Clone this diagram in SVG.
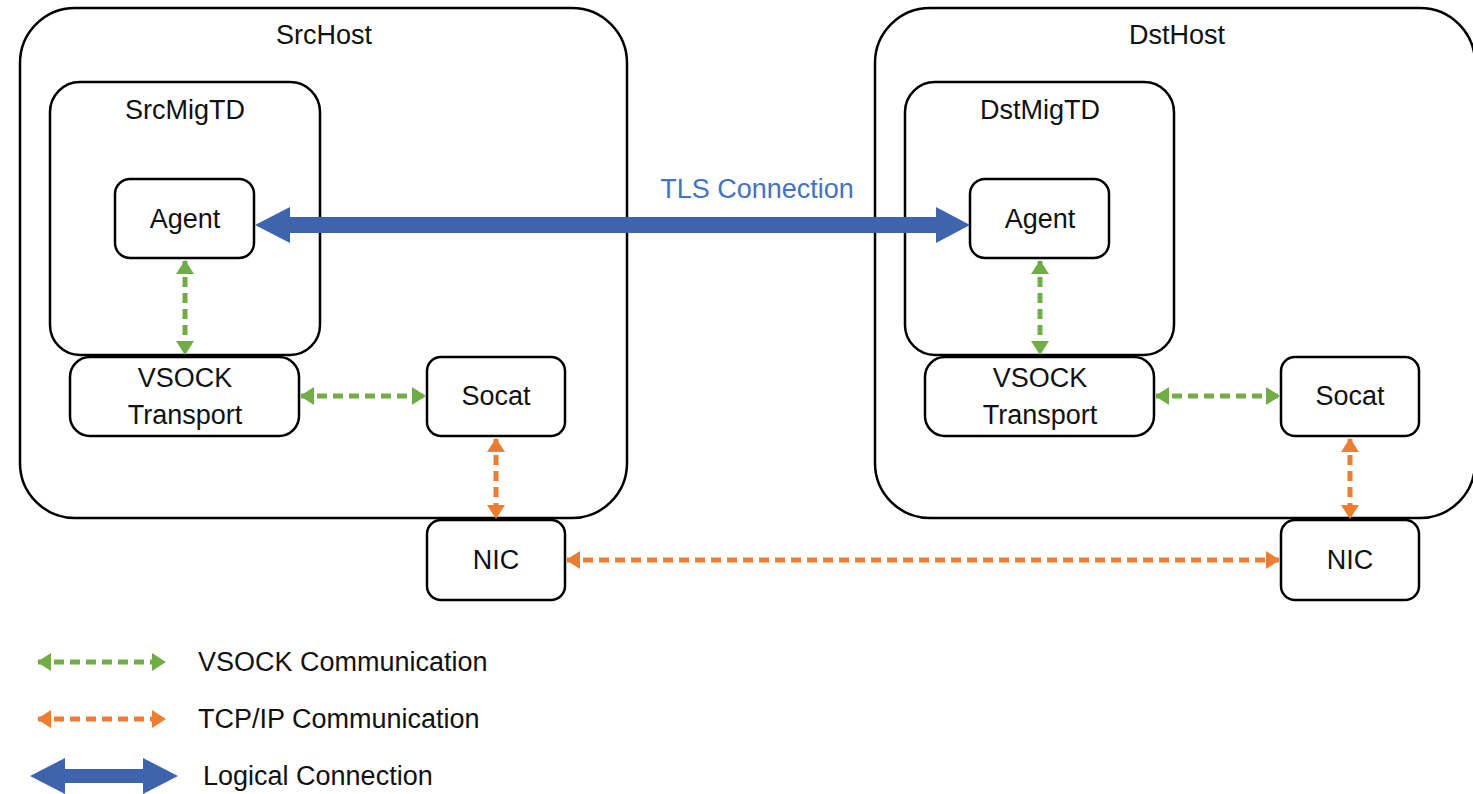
<svg xmlns="http://www.w3.org/2000/svg" width="1473" height="794" viewBox="0 0 1473 794">
<style>
.box{fill:#fff;stroke:#000;stroke-width:2.5}
.t{font-family:"Liberation Sans",Arial,sans-serif;font-size:27px;fill:#111;text-anchor:middle;dominant-baseline:central}
.tl{font-family:"Liberation Sans",Arial,sans-serif;font-size:27px;fill:#111;dominant-baseline:central}
.g{stroke:#70AD47;stroke-width:5;stroke-dasharray:10 6;fill:none}
.o{stroke:#ED7D31;stroke-width:5;stroke-dasharray:10 6;fill:none}
.blue{fill:#3F64AE}
</style>
<defs>
<marker id="gh" viewBox="0 0 14 18" refX="13" refY="9" markerWidth="14" markerHeight="18" markerUnits="userSpaceOnUse" orient="auto-start-reverse"><path d="M0,0 L14,9 L0,18 Z" fill="#70AD47"/></marker>
<marker id="oh" viewBox="0 0 14 18" refX="13" refY="9" markerWidth="14" markerHeight="18" markerUnits="userSpaceOnUse" orient="auto-start-reverse"><path d="M0,0 L14,9 L0,18 Z" fill="#ED7D31"/></marker>
</defs>
<rect width="1473" height="794" fill="#fff"/>
<g id="srchost"><rect class="box" x="20" y="8" width="607" height="510" rx="55"/><text class="t" x="324" y="35">SrcHost</text></g>
<g id="dsthost"><rect class="box" x="875" y="8" width="600" height="510" rx="55"/><text class="t" x="1177" y="35">DstHost</text></g>
<g id="srcmigtd"><rect class="box" x="50" y="82" width="270" height="273" rx="30"/><text class="t" x="185" y="110">SrcMigTD</text></g>
<g id="dstmigtd"><rect class="box" x="905" y="82" width="269" height="273" rx="30"/><text class="t" x="1040" y="110">DstMigTD</text></g>
<g id="srcagent"><rect class="box" x="115" y="179" width="139" height="79" rx="15"/><text class="t" x="185" y="219">Agent</text></g>
<g id="dstagent"><rect class="box" x="970" y="179" width="139" height="79" rx="15"/><text class="t" x="1040" y="219">Agent</text></g>
<g id="srcvsock"><rect class="box" x="70" y="357" width="229" height="79" rx="20"/><text class="t" x="185" y="378">VSOCK</text><text class="t" x="185" y="415">Transport</text></g>
<g id="dstvsock"><rect class="box" x="925" y="357" width="229" height="79" rx="20"/><text class="t" x="1040" y="378">VSOCK</text><text class="t" x="1040" y="415">Transport</text></g>
<g id="srcsocat"><rect class="box" x="427" y="357" width="138" height="79" rx="14"/><text class="t" x="496" y="396">Socat</text></g>
<g id="dstsocat"><rect class="box" x="1281" y="357" width="138" height="79" rx="14"/><text class="t" x="1350" y="396">Socat</text></g>
<g id="srcnic"><rect class="box" x="427" y="520" width="138" height="80" rx="14"/><text class="t" x="496" y="560">NIC</text></g>
<g id="dstnic"><rect class="box" x="1281" y="520" width="138" height="80" rx="14"/><text class="t" x="1350" y="560">NIC</text></g>
<g id="connectors">
<polygon class="blue" points="255,225 290,207 290,217 936,217 936,207 970,225 936,243 936,233 290,233 290,243"/>
<text class="t" x="757" y="189" style="fill:#4472C4">TLS Connection</text>
<line class="g" x1="185" y1="261" x2="185" y2="354" marker-start="url(#gh)" marker-end="url(#gh)"/>
<line class="g" x1="301" y1="396" x2="425" y2="396" marker-start="url(#gh)" marker-end="url(#gh)"/>
<line class="g" x1="1040" y1="261" x2="1040" y2="354" marker-start="url(#gh)" marker-end="url(#gh)"/>
<line class="g" x1="1156" y1="396" x2="1279" y2="396" marker-start="url(#gh)" marker-end="url(#gh)"/>
<line class="o" x1="496" y1="439" x2="496" y2="518" marker-start="url(#oh)" marker-end="url(#oh)"/>
<line class="o" x1="1350" y1="439" x2="1350" y2="518" marker-start="url(#oh)" marker-end="url(#oh)"/>
<line class="o" x1="567" y1="560" x2="1279" y2="560" marker-start="url(#oh)" marker-end="url(#oh)"/>
</g>
<g id="legend">
<line class="g" x1="38" y1="662" x2="165" y2="662" marker-start="url(#gh)" marker-end="url(#gh)"/>
<text class="tl" x="198" y="662">VSOCK Communication</text>
<line class="o" x1="38" y1="719" x2="165" y2="719" marker-start="url(#oh)" marker-end="url(#oh)"/>
<text class="tl" x="198" y="719">TCP/IP Communication</text>
<polygon class="blue" points="30,776 65,758 65,769 143,769 143,758 178,776 143,794 143,783 65,783 65,794"/>
<text class="tl" x="203" y="776">Logical Connection</text>
</g>
</svg>
